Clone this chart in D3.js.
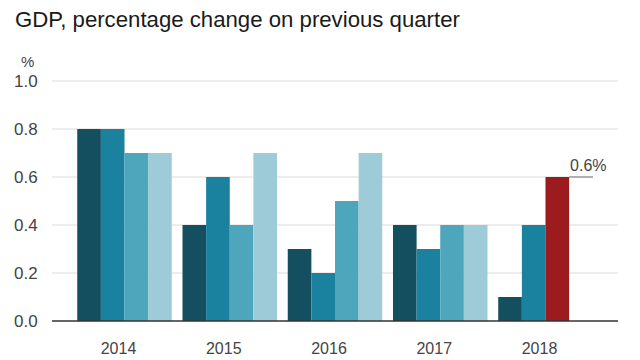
<!DOCTYPE html>
<html>
<head>
<meta charset="utf-8">
<script src="https://cdn.jsdelivr.net/npm/d3@7"></script>
<style>
  html, body { margin: 0; padding: 0; background: #fff; }
  svg { display: block; font-family: "Liberation Sans", Arial, Helvetica, sans-serif; }
</style>
</head>
<body>
<svg id="chart" width="640" height="360"></svg>
<script>
const years = ["2014", "2015", "2016", "2017", "2018"];
const quarters = ["Q1", "Q2", "Q3", "Q4"];
const q1 = [0.8, 0.4, 0.3, 0.4, 0.1];
const q2 = [0.8, 0.6, 0.2, 0.3, 0.4];
const q3 = [0.7, 0.4, 0.5, 0.4, 0.6];
const q4 = [0.7, 0.7, 0.7, 0.4, null];
const yTicks = [0, 0.2, 0.4, 0.6, 0.8, 1.0];
const quarterColors = ["#134f5f", "#1a819e", "#4ea6bd", "#9ecbd8"];
const latestColor = "#9b1b1e";
const latestLabel = "0.6%";

(function () {
const series = [q1, q2, q3, q4];
const rows = [];
years.forEach((yr, i) => {
  series.forEach((s, j) => {
    if (s[i] !== null) rows.push({ year: yr, q: quarters[j], qi: j, value: s[i] });
  });
});
const latest = rows[rows.length - 1];

const svg = d3.select("#chart");
const mLeft = 52, mRight = 618, mTop = 81, mBottom = 321;

const x = d3.scaleBand().domain(years).range([mLeft, mRight]).paddingInner(0.102).paddingOuter(0.24);
const xq = d3.scaleBand().domain(quarters).range([0, x.bandwidth()]);
const y = d3.scaleLinear().domain([0, 1]).range([mBottom, mTop]);

// title
svg.append("text").attr("x", 15).attr("y", 27)
  .attr("font-size", 22.2).attr("fill", "#1a1a1a")
  .text("GDP, percentage change on previous quarter");

// unit
svg.append("text").attr("x", 21).attr("y", 67)
  .attr("font-size", 15).attr("fill", "#444").text("%");

// gridlines
svg.append("g").selectAll("line").data(yTicks.filter(d => d > 0)).join("line")
  .attr("x1", mLeft).attr("x2", mRight)
  .attr("y1", d => y(d)).attr("y2", d => y(d))
  .attr("stroke", "#dcdcdc").attr("stroke-width", 1.2);

// y tick labels
svg.append("g").selectAll("text").data(yTicks).join("text")
  .attr("x", 14).attr("y", d => y(d))
  .attr("dy", "0.36em")
  .attr("font-size", 17).attr("fill", "#444")
  .text(d => d3.format(".1f")(d));

// bars
svg.append("g").selectAll("rect").data(rows).join("rect")
  .attr("x", d => x(d.year) + xq(d.q))
  .attr("width", xq.bandwidth())
  .attr("y", d => y(d.value))
  .attr("height", d => y(0) - y(d.value))
  .attr("fill", d => d === latest ? latestColor : quarterColors[d.qi]);

// annotation leader line
const lx = x(latest.year) + xq(latest.q) + xq.bandwidth();
svg.append("line")
  .attr("x1", lx).attr("x2", lx + 24)
  .attr("y1", y(latest.value)).attr("y2", y(latest.value))
  .attr("stroke", "#888").attr("stroke-width", 1.2);
svg.append("rect")
  .attr("x", lx + 24).attr("y", y(latest.value) - 1.5)
  .attr("width", mRight - lx - 23).attr("height", 3).attr("fill", "#fff");
svg.append("text")
  .attr("x", lx + 1).attr("y", y(latest.value) - 6)
  .attr("font-size", 16).attr("fill", "#444")
  .text(latestLabel);

// baseline
svg.append("line").attr("x1", mLeft).attr("x2", mRight)
  .attr("y1", y(0)).attr("y2", y(0))
  .attr("stroke", "#333").attr("stroke-width", 1.6);

// x labels
svg.append("g").selectAll("text").data(years).join("text")
  .attr("x", d => x(d) + x.bandwidth() / 2 - 6)
  .attr("y", 354)
  .attr("text-anchor", "middle")
  .attr("font-size", 16).attr("fill", "#444")
  .text(d => d);
})();
</script>
</body>
</html>
